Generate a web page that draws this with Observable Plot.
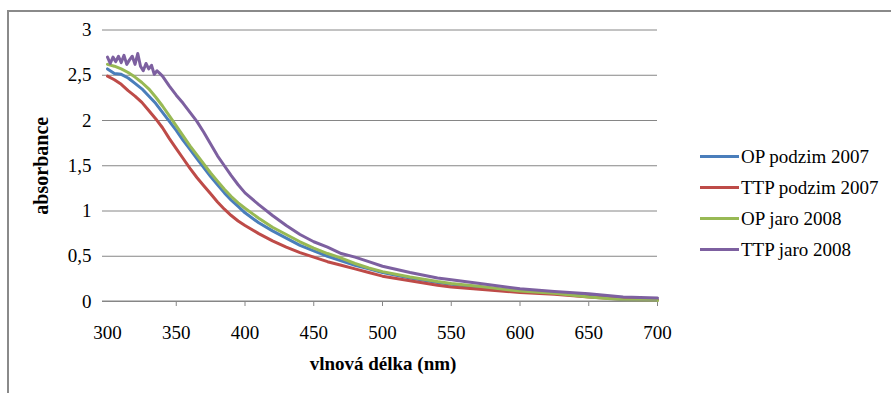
<!DOCTYPE html>
<html>
<head>
<meta charset="utf-8">
<script src="https://cdn.jsdelivr.net/npm/d3@7"></script>
<script src="https://cdn.jsdelivr.net/npm/@observablehq/plot@0.6"></script>
<style>
  body { margin: 0; background: #fff; }
  #wrap { position: relative; width: 891px; height: 393px; overflow: hidden; background: #fff; }
  #frame { position: absolute; left: 7px; top: 10px; width: 950px; height: 450px;
           border-left: 2px solid #8a8a8a; border-top: 2px solid #8a8a8a; }
  #chart { position: absolute; left: 0; top: 0; }
  #legend { position: absolute; left: 700px; top: 141px; font-family: "Liberation Serif", serif; font-size: 19px; color: #000; }
  .row { display: flex; align-items: center; height: 31px; }
  .sw { width: 39px; height: 3px; margin-right: 2px; }
  #chart svg text { font-family: "Liberation Serif", serif; }
</style>
</head>
<body>
<div id="wrap">
  <div id="frame"></div>
  <div id="chart"></div>
  <div id="legend"></div>
</div>
<script>
// ---- data ----
const seriesNames = ["OP podzim 2007", "TTP podzim 2007", "OP jaro 2008", "TTP jaro 2008"];
const seriesColors = ["#4a7ebb", "#be4b48", "#98b954", "#7d60a0"];

const wl = [300,305,310,315,320,325,330,335,340,345,350,355,360,365,370,375,380,385,390,395,400,
            410,420,430,440,450,460,470,480,490,500,520,540,550,575,600,625,650,675,700];

const opPodzim2007 = [2.57,2.52,2.51,2.47,2.41,2.35,2.27,2.19,2.09,1.99,1.89,1.78,1.68,1.58,1.48,1.38,1.29,1.20,1.12,1.05,0.98,
                      0.87,0.78,0.70,0.62,0.56,0.50,0.45,0.40,0.36,0.32,0.26,0.21,0.19,0.15,0.11,0.09,0.06,0.03,0.02];
const ttpPodzim2007 = [2.49,2.45,2.40,2.33,2.27,2.20,2.11,2.02,1.92,1.80,1.69,1.58,1.47,1.37,1.28,1.19,1.10,1.02,0.95,0.89,0.84,
                       0.75,0.67,0.60,0.54,0.49,0.44,0.40,0.36,0.32,0.28,0.23,0.18,0.16,0.13,0.10,0.08,0.05,0.025,0.015];
const opJaro2008 = [2.62,2.60,2.57,2.53,2.48,2.42,2.35,2.26,2.16,2.05,1.94,1.83,1.72,1.62,1.52,1.42,1.33,1.24,1.16,1.09,1.03,
                    0.92,0.82,0.74,0.66,0.59,0.53,0.48,0.42,0.37,0.33,0.27,0.22,0.20,0.16,0.115,0.09,0.05,0.02,0.01];

const wlTtpJaro = [300,302,304,306,308,310,312,314,316,318,320,322,324,326,328,330,332,334,336,338,340,
                   345,350,355,360,365,370,375,380,385,390,395,400,410,420,430,440,450,460,470,480,490,500,
                   520,540,550,575,600,625,650,675,700];
const ttpJaro2008 = [2.70,2.63,2.70,2.65,2.71,2.64,2.72,2.62,2.67,2.71,2.62,2.74,2.60,2.55,2.63,2.57,2.61,2.51,2.55,2.52,2.49,
                     2.38,2.28,2.19,2.09,1.99,1.87,1.74,1.61,1.50,1.39,1.29,1.20,1.07,0.95,0.84,0.74,0.66,0.60,0.53,0.49,0.44,0.39,
                     0.32,0.26,0.24,0.19,0.14,0.11,0.085,0.05,0.04];

const xTicks = [300,350,400,450,500,550,600,650,700];
const xTickMarks = [350,400,450,500,550,600,650,700];
const yTicks = [0,0.5,1,1.5,2,2.5,3];
const xTitle = "vlnová délka (nm)";
const yTitle = "absorbance";

// ---- build table ----
const table = [
  ...wl.map((w, i) => ({series: seriesNames[0], wl: w, a: opPodzim2007[i]})),
  ...wl.map((w, i) => ({series: seriesNames[1], wl: w, a: ttpPodzim2007[i]})),
  ...wl.map((w, i) => ({series: seriesNames[2], wl: w, a: opJaro2008[i]})),
  ...wlTtpJaro.map((w, i) => ({series: seriesNames[3], wl: w, a: ttpJaro2008[i]}))
];

const W = 891, H = 393;
const chart = Plot.plot({
  width: W,
  height: H,
  marginLeft: 102,
  marginRight: W - 657,
  marginTop: 29.5,
  marginBottom: H - 301,
  style: {fontFamily: "'Liberation Serif', serif", fontSize: "19px", background: "transparent", color: "#000"},
  x: {domain: [300, 700], range: [107, 657]},
  y: {domain: [0, 3]},
  color: {domain: seriesNames, range: seriesColors},
  marks: [
    Plot.gridY(yTicks, {stroke: "#868686", strokeOpacity: 1, strokeWidth: 1}),
    Plot.axisY({ticks: yTicks, tickSize: 0, tickPadding: 11, tickFormat: d => String(d).replace(".", ","), label: null, fontSize: 19}),
    Plot.axisX({ticks: xTickMarks, tickSize: 5, tickFormat: () => "", label: null, stroke: "#868686"}),
    Plot.axisX({ticks: xTicks, tickSize: 0, tickPadding: 24, label: null, fontSize: 19}),
    Plot.line(table, {x: "wl", y: "a", z: "series", stroke: "series", strokeWidth: 3, strokeLinejoin: "round"}),
    Plot.text([xTitle], {text: d => d, frameAnchor: "bottom", lineAnchor: "middle", dy: 62, dx: 3, fontWeight: "bold", fontSize: 19}),
    Plot.text([yTitle], {text: d => d, frameAnchor: "left", textAnchor: "middle", lineAnchor: "middle", dx: -61, rotate: -90, fontWeight: "bold", fontSize: 20})
  ]
});
document.getElementById("chart").appendChild(chart);

// x baseline from the scales
const svg = d3.select(chart);
const xs = chart.scale("x"), ys = chart.scale("y");
svg.append("line")
  .attr("x1", 102).attr("x2", xs.apply(700))
  .attr("y1", ys.apply(0)).attr("y2", ys.apply(0))
  .attr("stroke", "#868686");

const legend = document.getElementById("legend");
seriesNames.forEach((n, i) => {
  const row = document.createElement("div");
  row.className = "row";
  row.innerHTML = `<div class="sw" style="background:${seriesColors[i]}"></div><span>${n}</span>`;
  legend.appendChild(row);
});
</script>
</body>
</html>
